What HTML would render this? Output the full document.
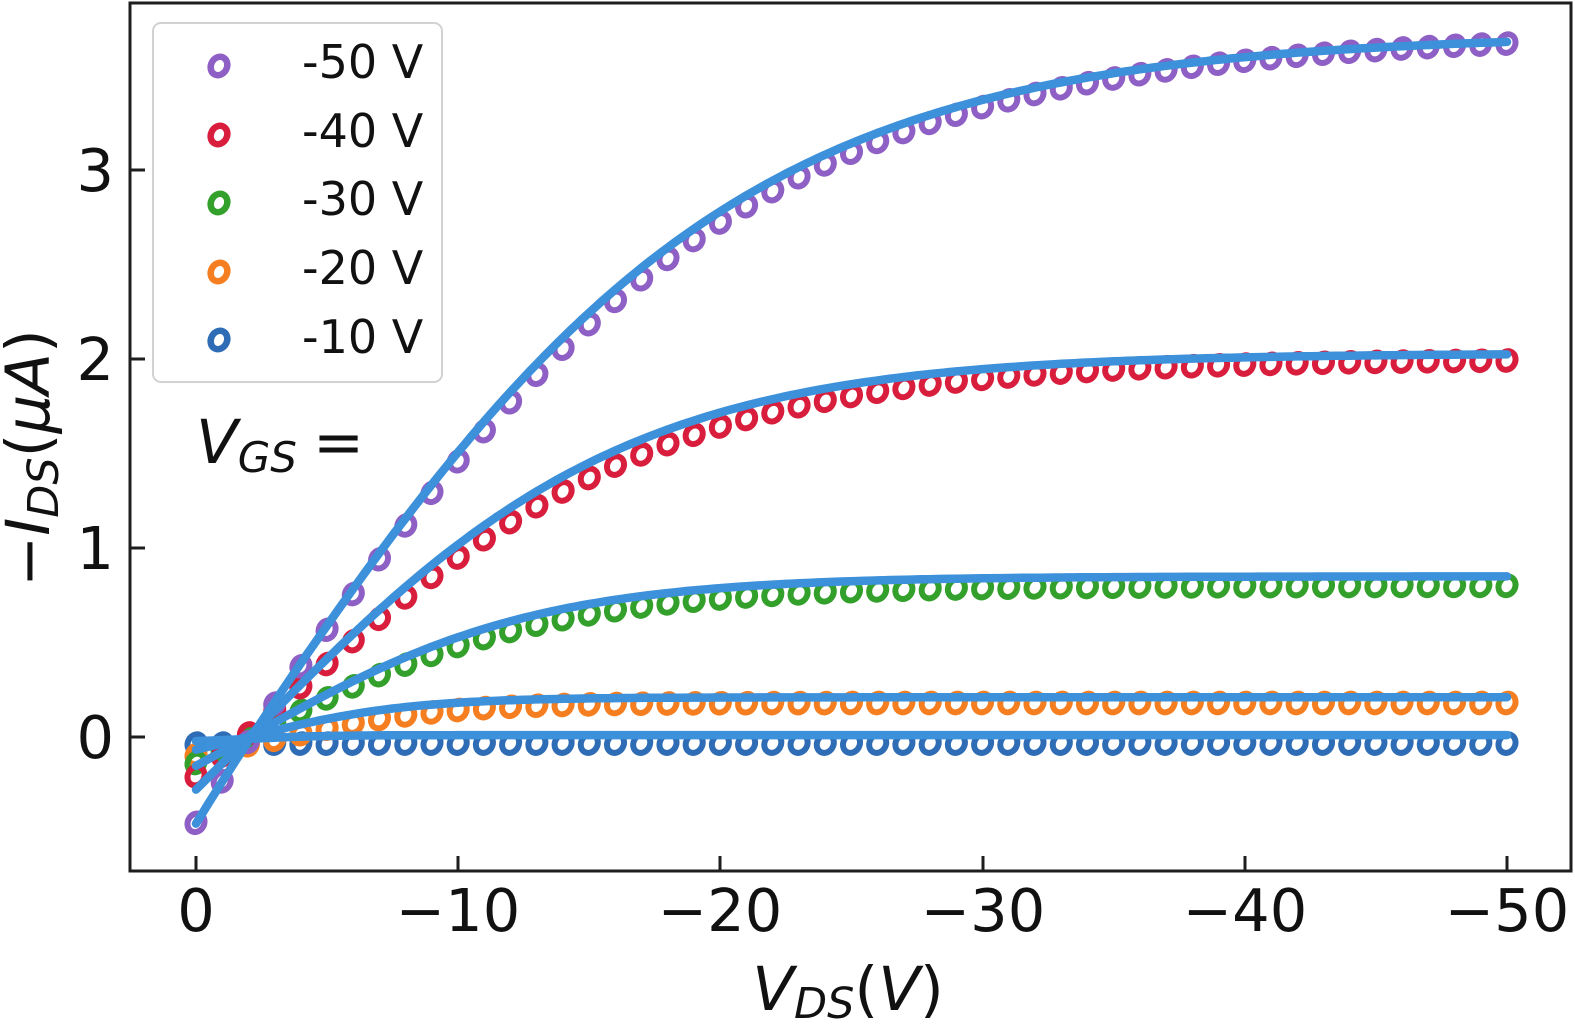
<!DOCTYPE html>
<html>
<head>
<meta charset="utf-8">
<style>
  html, body { margin: 0; padding: 0; background: #ffffff; }
  body { width: 1575px; height: 1029px; overflow: hidden; }
  svg { display: block; }
  text { font-family: "DejaVu Sans", "Liberation Sans", sans-serif; fill: #111; }
</style>
</head>
<body>
<svg id="chart" xmlns="http://www.w3.org/2000/svg" width="1575" height="1029" viewBox="0 0 1575 1029">
  <rect x="0" y="0" width="1575" height="1029" fill="#ffffff"/>
  <g id="markers"></g>
  <g id="fits" fill="none" stroke="#3d90da" stroke-width="8.5" stroke-linejoin="round" stroke-linecap="round"></g>

  <!-- frame -->
  <rect x="130" y="3" width="1441" height="868" fill="none" stroke="#1e1e1e" stroke-width="3"/>

  <!-- ticks -->
  <g stroke="#1e1e1e" stroke-width="3">
    <line x1="130" y1="170" x2="145" y2="170"/>
    <line x1="130" y1="359" x2="145" y2="359"/>
    <line x1="130" y1="548" x2="145" y2="548"/>
    <line x1="130" y1="737" x2="145" y2="737"/>
    <line x1="196" y1="871" x2="196" y2="856"/>
    <line x1="458" y1="871" x2="458" y2="856"/>
    <line x1="720" y1="871" x2="720" y2="856"/>
    <line x1="983" y1="871" x2="983" y2="856"/>
    <line x1="1245" y1="871" x2="1245" y2="856"/>
    <line x1="1507" y1="871" x2="1507" y2="856"/>
  </g>

  <!-- y tick labels -->
  <g font-size="59" text-anchor="end">
    <text x="114" y="191">3</text>
    <text x="114" y="380">2</text>
    <text x="114" y="569">1</text>
    <text x="114" y="758">0</text>
  </g>
  <!-- x tick labels -->
  <g font-size="59" text-anchor="middle">
    <text x="196" y="931">0</text>
    <text x="458" y="931">−10</text>
    <text x="720" y="931">−20</text>
    <text x="983" y="931">−30</text>
    <text x="1245" y="931">−40</text>
    <text x="1507" y="931">−50</text>
  </g>

  <!-- x axis label -->
  <text x="848" y="1010" font-size="61" text-anchor="middle"><tspan font-style="italic">V</tspan><tspan font-style="italic" font-size="43" dy="8">DS</tspan><tspan dy="-8">(</tspan><tspan font-style="italic">V</tspan><tspan>)</tspan></text>

  <!-- y axis label -->
  <text transform="translate(49,458) rotate(-90)" font-size="61" text-anchor="middle"><tspan>−</tspan><tspan font-style="italic">I</tspan><tspan font-style="italic" font-size="43" dy="9">DS</tspan><tspan dy="-9">(</tspan><tspan font-style="italic">μA</tspan><tspan>)</tspan></text>

  <!-- V_GS = -->
  <text x="196" y="463" font-size="61"><tspan font-style="italic">V</tspan><tspan font-style="italic" font-size="42" dy="9">GS</tspan></text>
  <text x="313" y="463" font-size="61">=</text>

  <!-- legend -->
  <rect x="153" y="23" width="289" height="359" rx="8" ry="8" fill="#ffffff" stroke="#d2d2d2" stroke-width="2"/>
  <g fill="none" stroke-width="6.5">
    <ellipse cx="219" cy="66" rx="8" ry="9.5" transform="rotate(28 219 66)" stroke="#8e5fc4"/>
    <ellipse cx="219" cy="135" rx="8" ry="9.5" transform="rotate(28 219 135)" stroke="#d81e3c"/>
    <ellipse cx="219" cy="203" rx="8" ry="9.5" transform="rotate(28 219 203)" stroke="#33a02c"/>
    <ellipse cx="219" cy="272" rx="8" ry="9.5" transform="rotate(28 219 272)" stroke="#f57f20"/>
    <ellipse cx="219" cy="340" rx="8" ry="9.5" transform="rotate(28 219 340)" stroke="#2e6db5"/>
  </g>
  <g font-size="46">
    <text x="302" y="78">-50 V</text>
    <text x="302" y="147">-40 V</text>
    <text x="302" y="215">-30 V</text>
    <text x="302" y="284">-20 V</text>
    <text x="302" y="353">-10 V</text>
  </g>
</svg>
<script>
(function(){
  var NS = "http://www.w3.org/2000/svg";
  function X(v){ return 196 + v*26.22; }
  function Y(i){ return 737 - i*189; }
  var th = Math.tanh, ex = Math.exp;
  var series = [
    {c:"#2e6db5", m:function(v){return -0.035;}, f:function(v){return -0.01+0.02*th((v-2)/3);}},
    {c:"#f57f20", m:function(v){return 0.18*th((v-3.5)/6);}, f:function(v){return 0.21*th((v-2)/6.1);}},
    {c:"#33a02c", m:function(v){return 0.8*th((v-2)/11.5);}, f:function(v){return 0.85*th((v-2)/11);}},
    {c:"#d81e3c", m:function(v){return 2.0*th((v-2)/15.5)+0.05*ex(-v/2);}, f:function(v){return 2.03*th((v-2)/14.5);}},
    {c:"#8e5fc4", m:function(v){return 3.72*th((v-2)/19.3)-0.07*ex(-v/2);}, f:function(v){return 3.72*th((v-2)/18.6)-0.06*ex(-v/2);}}
  ];
  var mg = document.getElementById("markers");
  var fg = document.getElementById("fits");
  series.forEach(function(s){
    var g = document.createElementNS(NS, "g");
    g.setAttribute("fill","none");
    g.setAttribute("stroke", s.c);
    g.setAttribute("stroke-width","6");
    for (var v=0; v<=50; v++){
      var cx = X(v), cy = Y(s.m(v));
      var e = document.createElementNS(NS, "ellipse");
      e.setAttribute("cx", cx.toFixed(1));
      e.setAttribute("cy", cy.toFixed(1));
      e.setAttribute("rx", "8.2");
      e.setAttribute("ry", "9.6");
      e.setAttribute("transform", "rotate(28 "+cx.toFixed(1)+" "+cy.toFixed(1)+")");
      g.appendChild(e);
    }
    mg.appendChild(g);
  });
  series.forEach(function(s){
    var pts = [];
    for (var v=0; v<=50.0001; v+=0.25){
      pts.push(X(v).toFixed(1)+","+Y(s.f(v)).toFixed(1));
    }
    var p = document.createElementNS(NS, "polyline");
    p.setAttribute("points", pts.join(" "));
    fg.appendChild(p);
  });
})();
</script>
</body>
</html>
